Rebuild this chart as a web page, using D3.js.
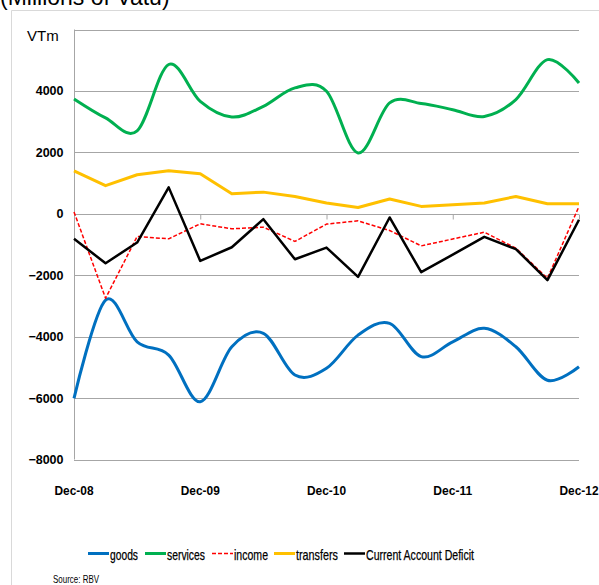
<!DOCTYPE html>
<html>
<head>
<meta charset="utf-8">
<script src="https://cdn.jsdelivr.net/npm/d3@7"></script>
<style>
  body { margin: 0; background: #fff; }
  svg { display: block; }
  .lab { font-family: "Liberation Sans", Arial, sans-serif; }
</style>
</head>
<body>
<svg width="599" height="585"></svg>
<script>
const quarters = ['Dec-08','Mar-09','Jun-09','Sep-09','Dec-09','Mar-10','Jun-10','Sep-10','Dec-10',
                  'Mar-11','Jun-11','Sep-11','Dec-11','Mar-12','Jun-12','Sep-12','Dec-12'];
const yearTicks = ['Dec-08','Dec-09','Dec-10','Dec-11','Dec-12'];
const yTicks = [-8000, -6000, -4000, -2000, 0, 2000, 4000, 6000];
const yLabels = [-8000, -6000, -4000, -2000, 0, 2000, 4000];

const goods = [-6010, -2810, -4170, -4600, -6120, -4330, -3890, -5250, -5030,
               -3950, -3570, -4650, -4170, -3730, -4330, -5420, -4980];
const services = [3740, 3120, 2700, 4860, 3660, 3150, 3500, 4100, 3990,
                  1980, 3610, 3590, 3390, 3170, 3720, 5020, 4260];
const income = [60, -2750, -740, -815, -325, -490, -435, -900, -335,
                -230, -545, -1045, -820, -600, -1120, -2100, 240];
const transfers = [1400, 915, 1270, 1400, 1305, 655, 705, 565, 350,
                   205, 480, 240, 295, 350, 565, 325, 325];
const cad = [-815, -1610, -935, 860, -1535, -1090, -175, -1480, -1100,
             -2055, -120, -1900, -1330, -750, -1150, -2160, -195];

const series = [
  { name: 'goods', values: goods, color: '#0070C0', width: 3, dash: null, smooth: true },
  { name: 'services', values: services, color: '#00B050', width: 3, dash: null, smooth: true },
  { name: 'income', values: income, color: '#FF0000', width: 1.5, dash: '4,2', smooth: false },
  { name: 'transfers', values: transfers, color: '#FFC000', width: 3, dash: null, smooth: false },
  { name: 'Current Account Deficit', values: cad, color: '#000000', width: 2.5, dash: null, smooth: false }
];

const svg = d3.select('svg');
const margin = { top: 29.5, left: 74, right: 20, bottom: 125.5 };

// frame and title
svg.append('path')
  .attr('d', 'M11.5,585 L11.5,10.5 L599,10.5')
  .attr('fill', 'none')
  .attr('stroke', '#d9d9d9');

svg.append('text')
  .attr('x', 0).attr('y', 5)
  .attr('font-family', 'Liberation Sans, Arial, sans-serif')
  .attr('font-size', 23)
  .attr('fill', '#000')
  .text('(Millions of Vatu)');

const x = d3.scalePoint()
  .domain(quarters)
  .range([margin.left, 579]);

const y = d3.scaleLinear()
  .domain([-8000, 6000])
  .range([459.5, margin.top]);

// gridlines
svg.append('g')
  .selectAll('line').data(yTicks).enter()
  .append('line')
    .attr('x1', margin.left).attr('x2', 579)
    .attr('y1', d => Math.round(y(d)) + 0.5).attr('y2', d => Math.round(y(d)) + 0.5)
    .attr('stroke', '#a6a6a6')
    .attr('stroke-width', 1);

// y axis
const axisY = svg.append('g')
  .attr('transform', `translate(${margin.left + 0.5},0)`)
  .call(d3.axisLeft(y).tickValues(yLabels).tickSize(0).tickPadding(11).tickFormat(d3.format('d')));
axisY.select('.domain').attr('stroke', '#a6a6a6').attr('d', `M0,${y(6000)}V${y(-8000)}`);
axisY.selectAll('text')
  .attr('class', 'lab')
  .attr('font-size', 12.5)
  .attr('font-weight', 'bold')
  .attr('fill', '#000');

svg.append('text')
  .attr('x', 27).attr('y', 41)
  .attr('font-family', 'Liberation Sans, Arial, sans-serif')
  .attr('font-size', 15)
  .attr('fill', '#000')
  .text('VTm');

// x axis at zero with year ticks
const axisX = svg.append('g')
  .attr('transform', `translate(0,${Math.round(y(0)) + 0.5})`)
  .call(d3.axisBottom(x).tickValues(yearTicks).tickSize(5).tickFormat(''));
axisX.select('.domain').remove();
axisX.selectAll('line').attr('stroke', '#a6a6a6');

// x labels at bottom
svg.append('g')
  .selectAll('text').data(yearTicks).enter()
  .append('text')
    .attr('class', 'lab')
    .attr('x', d => x(d))
    .attr('y', 495)
    .attr('text-anchor', 'middle')
    .attr('font-size', 13.5)
    .attr('font-weight', 'bold')
    .attr('textLength', 39)
    .attr('lengthAdjust', 'spacingAndGlyphs')
    .text(d => d);

// lines
const straight = d3.line().x((d, i) => x(quarters[i])).y(d => y(d));
const smooth = d3.line().x((d, i) => x(quarters[i])).y(d => y(d)).curve(d3.curveCatmullRom.alpha(0));

svg.append('g')
  .selectAll('path').data(series).enter()
  .append('path')
    .attr('d', d => (d.smooth ? smooth : straight)(d.values))
    .attr('fill', 'none')
    .attr('stroke', d => d.color)
    .attr('stroke-width', d => d.width)
    .attr('stroke-dasharray', d => d.dash)
    .attr('stroke-linejoin', 'round');

// legend
const legendX = [88, 145, 212, 274, 344];
const legendW = [28, 38, 34, 42, 108];
const legend = svg.append('g')
  .selectAll('g').data(series).enter()
  .append('g')
    .attr('transform', (d, i) => `translate(${legendX[i]},553.5)`);

legend.append('line')
  .attr('x1', 0).attr('x2', 21)
  .attr('stroke', d => d.color)
  .attr('stroke-width', d => d.width)
  .attr('stroke-dasharray', d => d.dash);

legend.append('text')
  .attr('class', 'lab')
  .attr('x', 22).attr('y', 6)
  .attr('font-size', 15)
  .attr('stroke', '#000')
  .attr('stroke-width', 0.25)
  .attr('textLength', (d, i) => legendW[i])
  .attr('lengthAdjust', 'spacingAndGlyphs')
  .text(d => d.name);

svg.append('text')
  .attr('class', 'lab')
  .attr('x', 53).attr('y', 583)
  .attr('font-size', 11)
  .attr('textLength', 46)
  .attr('lengthAdjust', 'spacingAndGlyphs')
  .text('Source: RBV');
</script>
</body>
</html>
